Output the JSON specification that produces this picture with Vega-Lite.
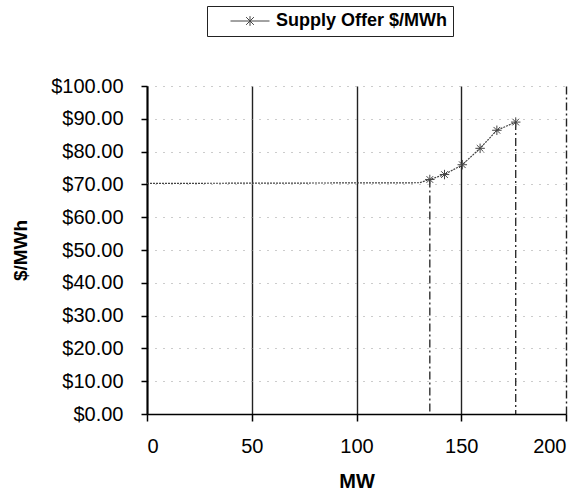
{
  "$schema": "https://vega.github.io/schema/vega-lite/v6.json",
  "width": 419,
  "height": 328,
  "autosize": {"type": "none"},
  "padding": {"left": 147, "top": 86, "right": 18, "bottom": 79},
  "background": "white",
  "config": {"view": {"stroke": null}, "font": "Liberation Sans"},
  "data": {
    "values": [
      {"mw": 0, "price": 70.3, "marker": false, "drop": false},
      {"mw": 130, "price": 70.5, "marker": false, "drop": false},
      {"mw": 135, "price": 71.5, "marker": true, "drop": true},
      {"mw": 142, "price": 73, "marker": true, "drop": false},
      {"mw": 150.5, "price": 76, "marker": true, "drop": false},
      {"mw": 159, "price": 81, "marker": true, "drop": false},
      {"mw": 167, "price": 86.5, "marker": true, "drop": false},
      {"mw": 176, "price": 89, "marker": true, "drop": true}
    ]
  },
  "encoding": {
    "x": {
      "field": "mw",
      "type": "quantitative",
      "scale": {"domain": [0, 200], "nice": false},
      "axis": {
        "title": "MW",
        "titleFontSize": 20,
        "titleFontWeight": "bold",
        "titleColor": "black",
        "titlePadding": 15,
        "values": [0, 50, 100, 150, 200],
        "labelFontSize": 20,
        "labelColor": "black",
        "labelPadding": 15,
        "labelOverlap": false,
        "tickSize": 7,
        "tickColor": "black",
        "tickWidth": 1.5,
        "domainColor": "black",
        "domainWidth": 1.5,
        "grid": true,
        "gridColor": "#222",
        "gridWidth": 1.4,
        "gridDash": {"condition": {"test": "datum.value == 200", "value": [8, 3, 2, 3]}, "value": [1, 0]}
      }
    },
    "y": {
      "field": "price",
      "type": "quantitative",
      "scale": {"domain": [0, 100], "nice": false},
      "axis": {
        "title": "$/MWh",
        "titleFontSize": 19,
        "titleFontWeight": "bold",
        "titleColor": "black",
        "titlePadding": 20,
        "tickCount": 10,
        "format": "$.2f",
        "labelFontSize": 20,
        "labelColor": "black",
        "labelPadding": 18,
        "labelOverlap": false,
        "labelBound": false,
        "tickSize": 6,
        "tickColor": "black",
        "tickWidth": 1.5,
        "domainColor": "black",
        "domainWidth": 2,
        "grid": true,
        "gridColor": "#999",
        "gridDash": [1, 7],
        "gridWidth": 1
      }
    }
  },
  "layer": [
    {
      "transform": [{"filter": "datum.drop"}],
      "mark": {"type": "rule", "strokeDash": [8, 3, 2, 3], "color": "#222", "strokeWidth": 1.3},
      "encoding": {
        "y2": {"datum": 0}
      }
    },
    {
      "mark": {"type": "line", "strokeDash": [2, 1], "strokeWidth": 1.2},
      "encoding": {
        "color": {
          "datum": "Supply Offer $/MWh",
          "scale": {"range": ["#444"]},
          "legend": {
            "orient": "none",
            "legendX": 60,
            "legendY": -80,
            "title": null,
            "labelFontSize": 18,
            "labelFontWeight": "bold",
            "labelColor": "black",
            "labelLimit": 400,
            "symbolType": "M-3,0L3,0M-0.6,-0.6L0.6,0.6M-0.6,0.6L0.6,-0.6M0,-0.75L0,0.75",
            "symbolSize": 169,
            "symbolStrokeColor": "#444",
            "symbolStrokeWidth": 1,
            "symbolFillColor": "transparent",
            "symbolOffset": 28,
            "labelOffset": 17,
            "padding": 6,
            "strokeColor": "#222",
            "fillColor": "white"
          }
        }
      }
    },
    {
      "transform": [{"filter": "datum.marker"}],
      "mark": {
        "type": "point",
        "shape": "M-1,0L1,0M0,-1L0,1M-0.7,-0.7L0.7,0.7M-0.7,0.7L0.7,-0.7",
        "size": 90,
        "filled": false,
        "strokeWidth": 1,
        "color": "#444",
        "opacity": 1
      }
    }
  ]
}
